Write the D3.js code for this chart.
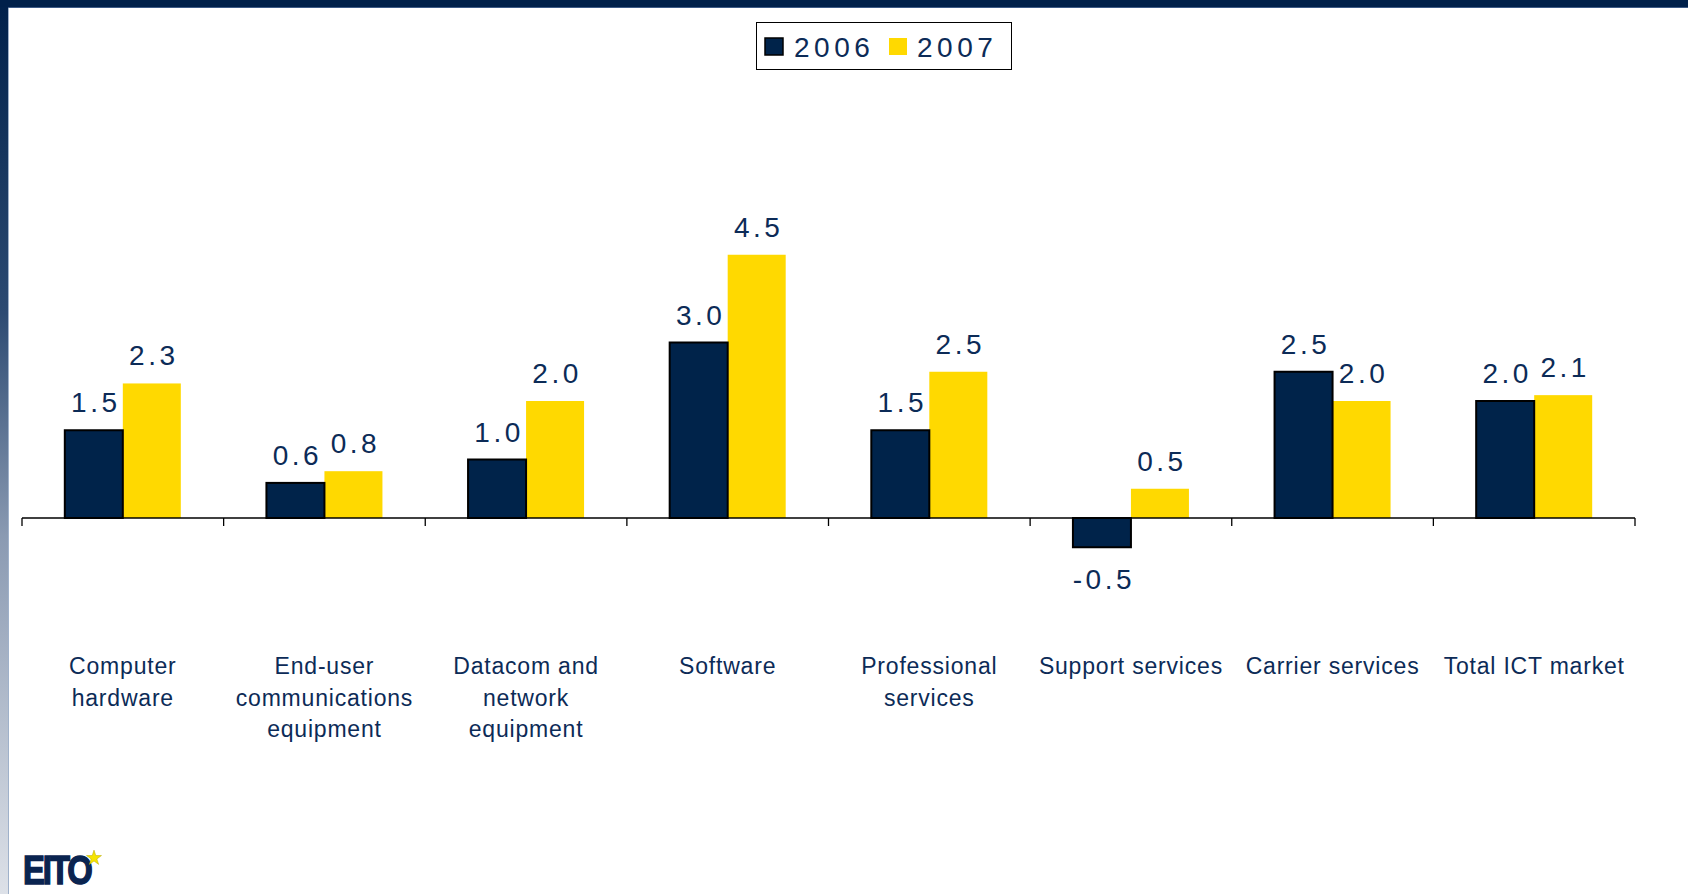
<!DOCTYPE html>
<html>
<head>
<meta charset="utf-8">
<script src="https://cdn.jsdelivr.net/npm/d3@7"></script>
<style>
  html, body { margin: 0; padding: 0; background: #fff; }
  svg { display: block; }
</style>
</head>
<body>
<svg id="chart" width="1688" height="894"></svg>
<script>
// ---- data ----
const categories = ["Computer hardware", "End-user communications equipment", "Datacom and network equipment", "Software", "Professional services", "Support services", "Carrier services", "Total ICT market"];
const categoryLines = [["Computer", "hardware"], ["End-user", "communications", "equipment"], ["Datacom and", "network", "equipment"], ["Software"], ["Professional", "services"], ["Support services"], ["Carrier services"], ["Total ICT market"]];
const seriesNames = ["2006", "2007"];
const values2006 = [1.5, 0.6, 1.0, 3.0, 1.5, -0.5, 2.5, 2.0];
const values2007 = [2.3, 0.8, 2.0, 4.5, 2.5, 0.5, 2.0, 2.1];
const valueLabels2006 = ["1.5", "0.6", "1.0", "3.0", "1.5", "-0.5", "2.5", "2.0"];
const valueLabels2007 = ["2.3", "0.8", "2.0", "4.5", "2.5", "0.5", "2.0", "2.1"];

const NAVY = "#00234a";
const YELLOW = "#ffd900";
const TEXT = "#0c2b57";

const svg = d3.select("#chart");

// ---- frame ----
const defs = svg.append("defs");
const grad = defs.append("linearGradient").attr("id", "leftGrad").attr("x1", 0).attr("y1", 0).attr("x2", 0).attr("y2", 1);
grad.append("stop").attr("offset", "0%").attr("stop-color", "#00204a");
grad.append("stop").attr("offset", "35%").attr("stop-color", "#2c4a72");
grad.append("stop").attr("offset", "60%").attr("stop-color", "#8a9ab2");
grad.append("stop").attr("offset", "100%").attr("stop-color", "#dde1e8");
svg.append("rect").attr("x", 0).attr("y", 0).attr("width", 8).attr("height", 894).attr("fill", "url(#leftGrad)");
svg.append("rect").attr("x", 8).attr("y", 7).attr("width", 1).attr("height", 887).attr("fill", "#9fb1ca");
svg.append("rect").attr("x", 0).attr("y", 0).attr("width", 1688).attr("height", 7).attr("fill", "#00204a");
svg.append("rect").attr("x", 8).attr("y", 7).attr("width", 1680).attr("height", 1).attr("fill", "#3d5a86");

// ---- scales ----
const x0 = d3.scaleBand().domain(categories).range([22, 1635]).paddingInner(0).paddingOuter(0);
const x1 = d3.scaleBand().domain(seriesNames).range([0, x0.bandwidth()]).paddingInner(0).paddingOuter(0.738);
const y = d3.scaleLinear().domain([-1, 5]).range([576.5, 225.5]);

const rows = categories.map((c, i) => ({
  cat: c, lines: categoryLines[i],
  vals: [
    { s: "2006", v: values2006[i], label: valueLabels2006[i] },
    { s: "2007", v: values2007[i], label: valueLabels2007[i] }
  ]
}));

// ---- bars ----
const g = svg.append("g");
const groups = g.selectAll("g.cat").data(rows).join("g")
  .attr("class", "cat")
  .attr("transform", d => `translate(${x0(d.cat)},0)`);

groups.selectAll("rect.y07").data(d => d.vals.filter(v => v.s === "2007")).join("rect")
  .attr("class", "y07")
  .attr("x", d => x1(d.s))
  .attr("width", x1.bandwidth())
  .attr("y", d => y(Math.max(0, d.v)))
  .attr("height", d => Math.abs(y(d.v) - y(0)))
  .attr("fill", YELLOW);

groups.selectAll("rect.y06").data(d => d.vals.filter(v => v.s === "2006")).join("rect")
  .attr("class", "y06")
  .attr("x", d => x1(d.s))
  .attr("width", x1.bandwidth())
  .attr("y", d => y(Math.max(0, d.v)))
  .attr("height", d => Math.abs(y(d.v) - y(0)))
  .attr("fill", NAVY)
  .attr("stroke", "#000")
  .attr("stroke-width", 2);

// ---- axis ----
const axisG = svg.append("g");
axisG.append("line")
  .attr("x1", x0.range()[0]).attr("x2", x0.range()[1])
  .attr("y1", y(0)).attr("y2", y(0))
  .attr("stroke", "#000").attr("stroke-width", 1.3);
const boundaries = categories.map(c => x0(c)).concat([x0.range()[1]]);
axisG.selectAll("line.tick").data(boundaries).join("line")
  .attr("class", "tick")
  .attr("x1", d => d).attr("x2", d => d)
  .attr("y1", y(0)).attr("y2", y(0) + 8)
  .attr("stroke", "#000").attr("stroke-width", 1.3);

// ---- value labels ----
groups.selectAll("text.val").data(d => d.vals).join("text")
  .attr("class", "val")
  .attr("x", d => x1(d.s) + x1.bandwidth() / 2 + 2)
  .attr("y", d => d.v >= 0 ? y(d.v) - 18 : y(d.v) + 42)
  .attr("text-anchor", "middle")
  .attr("font-family", "'Liberation Sans', Arial, sans-serif")
  .attr("font-size", 28)
  .attr("letter-spacing", "3.5px")
  .attr("fill", TEXT)
  .text(d => d.label);

// ---- category labels ----
const catLabels = svg.append("g").selectAll("text.cat").data(rows).join("text")
  .attr("class", "cat")
  .attr("x", d => x0(d.cat) + x0.bandwidth() / 2)
  .attr("y", 674)
  .attr("text-anchor", "middle")
  .attr("font-family", "'Liberation Sans', Arial, sans-serif")
  .attr("font-size", 23)
  .attr("letter-spacing", "0.8px")
  .attr("fill", TEXT);
catLabels.selectAll("tspan").data(d => d.lines.map(l => ({ l, x: x0(d.cat) + x0.bandwidth() / 2 }))).join("tspan")
  .attr("x", d => d.x)
  .attr("dy", (d, i) => i === 0 ? 0 : 31.5)
  .text(d => d.l);

// ---- legend ----
const legend = svg.append("g");
legend.append("rect").attr("x", 756.5).attr("y", 22.5).attr("width", 255).attr("height", 47)
  .attr("fill", "#fff").attr("stroke", "#000").attr("stroke-width", 1);
const legItems = [{ s: seriesNames[0], fill: NAVY, stroke: "#000", sx: 765, tx: 794 }, { s: seriesNames[1], fill: YELLOW, stroke: "none", sx: 889, tx: 917 }];
legend.selectAll("rect.sw").data(legItems).join("rect")
  .attr("class", "sw")
  .attr("x", d => d.sx).attr("y", 38).attr("width", 18).attr("height", 17)
  .attr("fill", d => d.fill).attr("stroke", d => d.stroke).attr("stroke-width", 1.5);
legend.selectAll("text.lt").data(legItems).join("text")
  .attr("class", "lt")
  .attr("x", d => d.tx).attr("y", 57)
  .attr("font-family", "'Liberation Sans', Arial, sans-serif")
  .attr("font-size", 28)
  .attr("letter-spacing", "4.5px")
  .attr("fill", TEXT)
  .text(d => d.s);

// ---- logo ----
const logo = svg.append("g").attr("transform", "translate(23,884) scale(0.82,1)");
logo.append("text")
  .attr("x", 0).attr("y", 0)
  .attr("font-family", "'Liberation Sans', Arial, sans-serif")
  .attr("font-weight", "bold")
  .attr("font-size", 40)
  .attr("letter-spacing", "-2.5px")
  .attr("fill", "#0a2450")
  .attr("stroke", "#0a2450")
  .attr("stroke-width", 1.5)
  .text("EITO");
const star = d3.symbol().type(d3.symbolStar).size(70);
svg.append("path").attr("d", star()).attr("transform", "translate(94,858)").attr("fill", "#f5e400").attr("stroke", "#b8a800").attr("stroke-width", 0.5);
</script>
</body>
</html>
